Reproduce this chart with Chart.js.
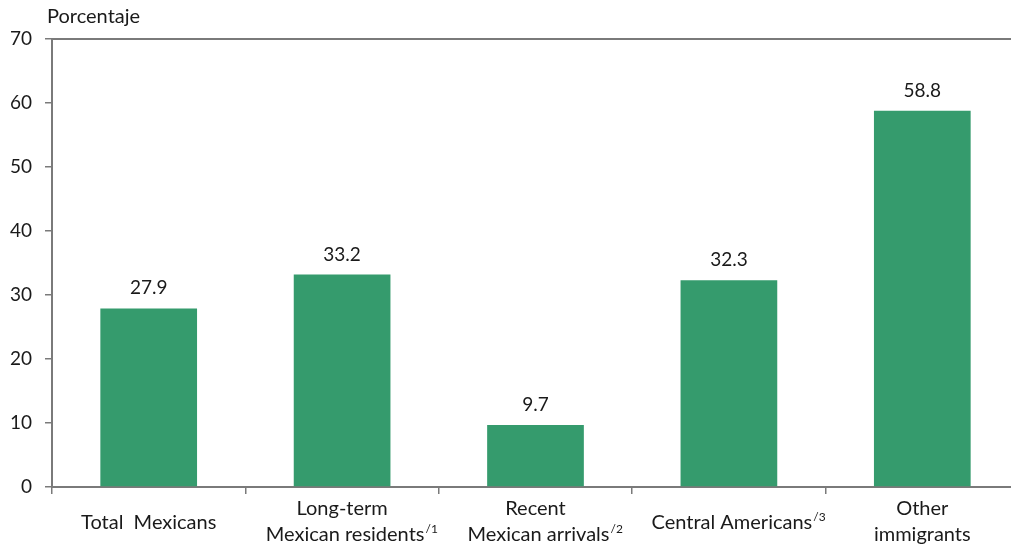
<!DOCTYPE html>
<html><head><meta charset="utf-8">
<script src="https://cdn.jsdelivr.net/npm/chart.js@4"></script>
<style>html,body{margin:0;padding:0;overflow:hidden;background:#fff;width:1011px;height:552px}canvas{display:block}</style>
</head><body>
<canvas id="c" width="1019" height="552" style="width:1019px;height:552px"></canvas>
<script>
const categories = ["Total Mexicans","Long-term Mexican residents","Recent Mexican arrivals","Central Americans","Other immigrants"];
const labelLines = [["Total  Mexicans"],["Long-term","Mexican residents"],["Recent","Mexican arrivals"],["Central Americans"],["Other","immigrants"]];
const labelSups = ["","/1","/2","/3",""];
const values = [27.9, 33.2, 9.7, 32.3, 58.8];
const yTicks = [0,10,20,30,40,50,60,70];
const yTitle = "Porcentaje";

const FONT = "Lato, 'Open Sans', sans-serif";
const GREEN = "#359b6d";
const AXIS = "#7a7a7a";
const TXT = "#1a1a1a";

const overlay = {
  id:'overlay',
  afterDraw(chart){
    const ctx = chart.ctx, ca = chart.chartArea;
    const x = chart.scales.x;
    ctx.save();
    ctx.strokeStyle = AXIS; ctx.lineWidth = 2;
    ctx.beginPath(); ctx.moveTo(ca.left-1, ca.top); ctx.lineTo(ca.right, ca.top); ctx.stroke();
    ctx.fillStyle = TXT; ctx.font = "20px " + FONT;
    ctx.textAlign = "left"; ctx.textBaseline = "middle";
    ctx.fillText(yTitle, 47, 17);
    const meta = chart.getDatasetMeta(0);
    ctx.font = "19px " + FONT;
    ctx.textAlign = "center"; ctx.textBaseline = "alphabetic";
    meta.data.forEach((bar,i)=>{
      ctx.fillText(values[i].toFixed(1), bar.x, bar.y - 14);
    });
    labelLines.forEach((lines,i)=>{
      const cx = x.getPixelForValue(i);
      const n = lines.length;
      lines.forEach((ln,j)=>{
        const cy = n === 1 ? 523 : 509 + j*26;
        const sup = (j === n-1) ? labelSups[i] : "";
        ctx.font = "20px " + FONT;
        const w1 = ctx.measureText(ln).width;
        const start = cx - w1/2 + (sup ? 3 : 0);
        ctx.textAlign = "left"; ctx.textBaseline = "middle";
        ctx.fillText(ln, start, cy);
        if (sup){
          ctx.font = "12px " + FONT;
          ctx.fillText(sup, start + w1 + 1, cy - 6);
        }
      });
    });
    ctx.restore();
  }
};

new Chart(document.getElementById('c'), {
  type:'bar',
  data:{ labels: categories, datasets:[{ data: values, backgroundColor: GREEN, borderWidth:0, categoryPercentage:1, barPercentage:0.5 }]},
  options:{
    responsive:false, animation:false, devicePixelRatio:1,
    layout:{ padding:{ top:39, right:0, bottom:0, left:0 } },
    plugins:{ legend:{display:false}, tooltip:{enabled:false} },
    scales:{
      x:{
        offset:true,
        grid:{ display:true, drawOnChartArea:false, drawTicks:true, tickLength:7, color:AXIS, lineWidth:1.5, offset:true },
        border:{ display:true, color:AXIS, width:2 },
        ticks:{ display:false },
        afterFit(s){ s.height = 65; }
      },
      y:{
        min:0, max:70,
        afterBuildTicks(s){ s.ticks = yTicks.map(v=>({value:v})); },
        grid:{ display:true, drawOnChartArea:false, drawTicks:true, tickLength:7, color:AXIS, lineWidth:1.5 },
        border:{ display:true, color:AXIS, width:2 },
        ticks:{ color:TXT, font:{ family:FONT, size:19 }, padding:13 },
        afterFit(s){ s.width = 52; }
      }
    }
  },
  plugins:[overlay]
});
</script>
</body></html>
